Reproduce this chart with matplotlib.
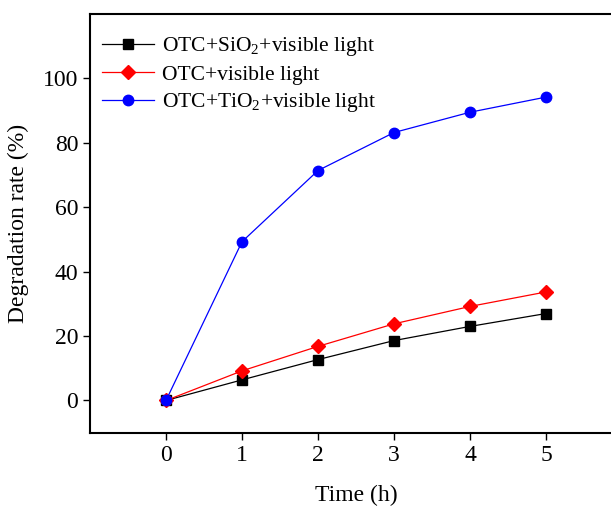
import matplotlib.pyplot as plt
import numpy as np

plt.rcParams['font.family'] = 'Liberation Serif'
plt.rcParams['mathtext.fontset'] = 'custom'
plt.rcParams['mathtext.rm'] = 'Liberation Serif'

# %% datos
tiempo = [0, 1, 2, 3, 4, 5]
sio2 = [0, 6.4, 12.7, 18.6, 23.0, 27.0]
sola = [0, 9.2, 16.8, 23.8, 29.2, 33.7]
tio2 = [0, 49.3, 71.4, 83.2, 89.5, 94.2]

etiquetas = ['OTC+SiO$_2$+visible light',
             'OTC+visible light',
             'OTC+TiO$_2$+visible light']

# %% grafico
fig = plt.figure(figsize=(6.11, 5.07), dpi=100)
ax = fig.add_axes([90 / 611, 74.3 / 507, 532 / 611, 418.7 / 507])

ax.plot(tiempo, sio2, color='black', marker='s', ms=7, lw=0.9, label=etiquetas[0])
ax.plot(tiempo, sola, color='red', marker='D', ms=7, lw=0.9, label=etiquetas[1])
ax.plot(tiempo, tio2, color='blue', marker='o', ms=7.5, lw=0.9, label=etiquetas[2])

ax.set_xlim(-1, 6)
ax.set_ylim(-10, 120)
ax.set_xticks([0, 1, 2, 3, 4, 5])
ax.set_yticks([0, 20, 40, 60, 80, 100])
ax.tick_params(direction='out', length=5, width=1.0, labelsize=17)
for s in ax.spines.values():
    s.set_linewidth(1.5)

ax.set_xlabel('Time (h)', fontsize=17, labelpad=14)
ax.set_ylabel('Degradation rate (%)', fontsize=17, labelpad=10)

ax.legend(loc='upper left', frameon=False, fontsize=15.5, handlelength=2.4,
          labelspacing=0.3, borderaxespad=0.3, handletextpad=0.35,
          bbox_to_anchor=(-0.005, 0.985))

fig.savefig('out.png', dpi=100)
